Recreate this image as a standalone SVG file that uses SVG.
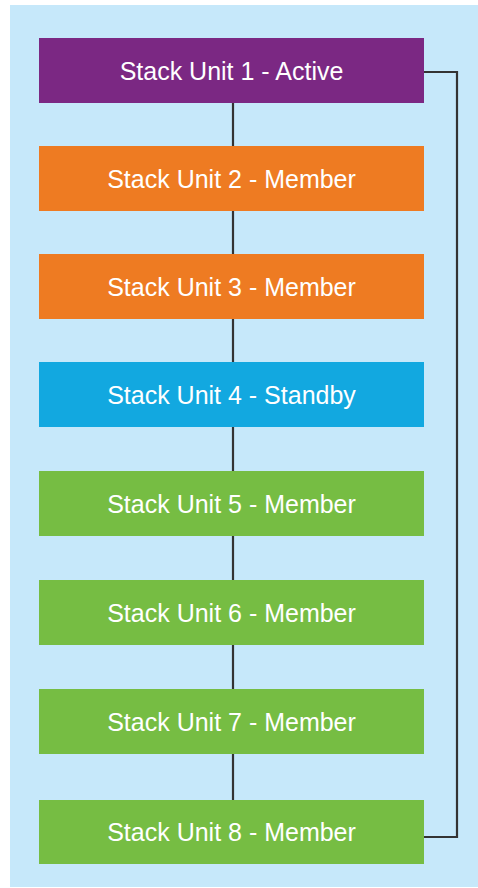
<svg xmlns="http://www.w3.org/2000/svg" width="478" height="888" viewBox="0 0 478 888">
<style>
.n{stroke:none}
.t{font-family:"Liberation Sans",Arial,sans-serif;font-size:25px;fill:#ffffff;text-anchor:middle;dominant-baseline:central}
.c{fill:none;stroke:#333333;stroke-width:2.2}
.p{fill:#7b2883}.o{fill:#ee7b22}.b{fill:#12a8e0}.g{fill:#76bd43}
</style>
<rect x="10" y="5" width="468" height="882" fill="#c6e8fa"/>
<g id="connectors">
<line class="c" x1="233" y1="103" x2="233" y2="800"/>
<polyline class="c" points="424,72 457,72 457,837 424,837"/>
</g>
<g id="unit1"><rect class="p" x="39" y="38" width="385" height="65"/><text class="t" x="231.5" y="71">Stack Unit 1 - Active</text></g>
<g id="unit2"><rect class="o" x="39" y="146" width="385" height="65"/><text class="t" x="231.5" y="179">Stack Unit 2 - Member</text></g>
<g id="unit3"><rect class="o" x="39" y="254" width="385" height="65"/><text class="t" x="231.5" y="287">Stack Unit 3 - Member</text></g>
<g id="unit4"><rect class="b" x="39" y="362" width="385" height="65"/><text class="t" x="231.5" y="395">Stack Unit 4 - Standby</text></g>
<g id="unit5"><rect class="g" x="39" y="471" width="385" height="65"/><text class="t" x="231.5" y="504">Stack Unit 5 - Member</text></g>
<g id="unit6"><rect class="g" x="39" y="580" width="385" height="65"/><text class="t" x="231.5" y="613">Stack Unit 6 - Member</text></g>
<g id="unit7"><rect class="g" x="39" y="689" width="385" height="65"/><text class="t" x="231.5" y="722">Stack Unit 7 - Member</text></g>
<g id="unit8"><rect class="g" x="39" y="800" width="385" height="64"/><text class="t" x="231.5" y="832">Stack Unit 8 - Member</text></g>
</svg>
